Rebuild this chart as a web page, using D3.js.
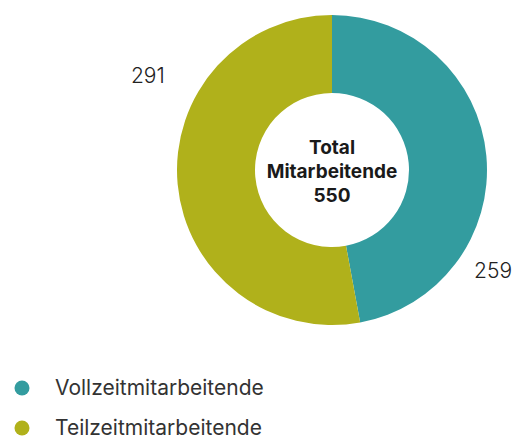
<!DOCTYPE html>
<html>
<head>
<meta charset="utf-8">
<script src="https://cdn.jsdelivr.net/npm/d3@7"></script>
<style>
  body { margin: 0; background: #fff; }
  text { font-family: Inter, "Noto Sans", sans-serif; }
</style>
</head>
<body>
<div id="chart"></div>
<script>
const categories = ['Vollzeitmitarbeitende', 'Teilzeitmitarbeitende'];
const values = [259, 291];
const colors = ['#339c9f', '#b0b11b'];
const centerLines = ['Total', 'Mitarbeitende', '550'];

const width = 529;
const height = 437;
const cx = 332, cy = 170;
const outerR = 155, innerR = 77;

const svg = d3.select('#chart')
  .append('svg')
    .attr('width', width)
    .attr('height', height);

const pie = d3.pie().sort(null).value(d => d.value);
const data = pie(categories.map((c, i) => ({ name: c, value: values[i] })));
const arc = d3.arc().innerRadius(innerR).outerRadius(outerR);

const g = svg.append('g').attr('transform', `translate(${cx},${cy})`);

g.selectAll('path')
  .data(data)
  .join('path')
    .attr('d', arc)
    .attr('fill', (d, i) => colors[i]);

// value labels, placed outside the ring
const labelR = [190, 207];
const labelFrac = [0.72, 0.67];
const labelAngle = (d, i) => d.startAngle + labelFrac[i] * (d.endAngle - d.startAngle);
g.selectAll('.value-label')
  .data(data)
  .join('text')
    .attr('class', 'value-label')
    .attr('x', (d, i) => Math.sin(labelAngle(d, i)) * labelR[i])
    .attr('y', (d, i) => -Math.cos(labelAngle(d, i)) * labelR[i])
    .attr('dy', '0.35em')
    .attr('text-anchor', 'middle')
    .attr('font-size', 21)
    .attr('font-weight', 300)
    .attr('fill', '#222')
    .text(d => d.value);

// center text
g.append('text')
  .attr('text-anchor', 'middle')
  .attr('font-size', 19)
  .attr('font-weight', 700)
  .attr('fill', '#1a1a1a')
  .selectAll('tspan')
  .data(centerLines)
  .join('tspan')
    .attr('x', 0)
    .attr('y', (d, i) => -16 + i * 24)
    .text(d => d);

// legend
const legend = svg.append('g')
  .selectAll('g')
  .data(categories)
  .join('g')
    .attr('transform', (d, i) => `translate(22, ${388 + i * 40})`);
legend.append('circle')
  .attr('r', 7.5)
  .attr('fill', (d, i) => colors[i]);
legend.append('text')
  .attr('x', 33)
  .attr('dy', '0.35em')
  .attr('font-size', 21)
  .attr('fill', '#333')
  .text(d => d);
</script>
</body>
</html>
